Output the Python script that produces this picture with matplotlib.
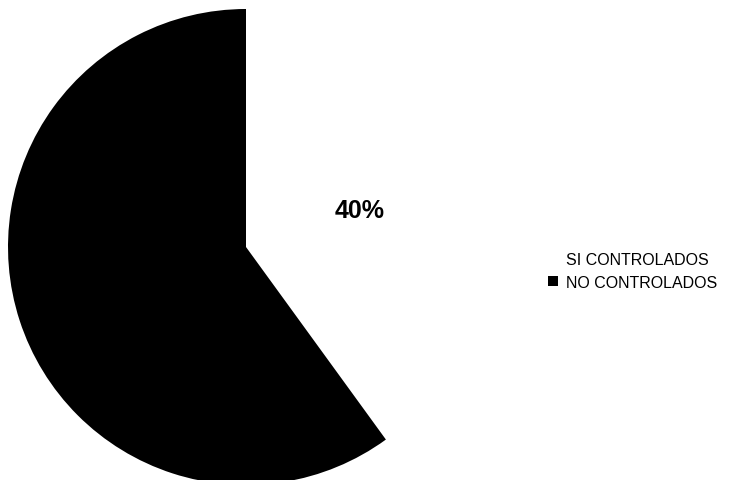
import matplotlib.pyplot as plt

# Datos
categorias = ['SI CONTROLADOS', 'NO CONTROLADOS']
porcentajes = [40, 60]
colores = ['white', 'black']

plt.rcParams['font.family'] = ['Liberation Sans', 'DejaVu Sans']

fig = plt.figure(figsize=(7.31, 4.81), dpi=100)
W, H = 731, 481

# centro del grafico (px) y radio
cx, cy, r = 246, 248, 238
ax = fig.add_axes([(cx - r) / W, (H - cy - r) / H, 2 * r / W, 2 * r / H])

wedges, textos, autotextos = ax.pie(
    porcentajes, colors=colores, startangle=90, counterclock=False,
    autopct=lambda p: f'{p:.0f}%' if p < 50 else '',
    pctdistance=0.5, radius=1,
    wedgeprops=dict(linewidth=0),
    textprops=dict(fontsize=18, fontweight='bold', color='black'))
ax.set_xlim(-1, 1)
ax.set_ylim(-1, 1)
ax.set_aspect('equal')
ax.axis('off')

fig.legend(wedges, categorias, loc='center left',
           bbox_to_anchor=(548 / W, (H - 272) / H), bbox_transform=fig.transFigure,
           frameon=False, fontsize=11.5, borderpad=0, borderaxespad=0,
           handlelength=0.6, handleheight=0.6, handletextpad=0.5, labelspacing=0.45)

plt.savefig('out.png', dpi=100)
